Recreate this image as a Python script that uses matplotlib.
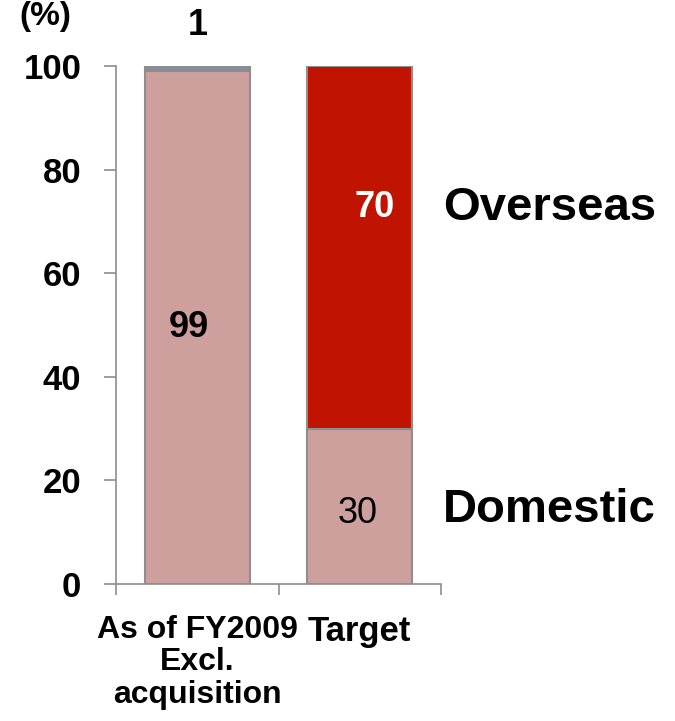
import matplotlib
matplotlib.use("Agg")
import matplotlib.pyplot as plt

plt.rcParams['font.family'] = ['Liberation Sans', 'DejaVu Sans']

categories = ["As of FY2009\nExcl.\nacquisition", "Target"]
domestic = [99, 30]
overseas = [1, 70]
overseas_colors = ["#7F8FA6", "#C01400"]
domestic_color = "#CDA09E"
edge = "#8E8E8E"

fig = plt.figure(figsize=(6.75, 7.21), dpi=100)
ax = fig.add_axes([116 / 675, 1 - 584 / 721, 325 / 675, 518 / 721])

x = list(range(len(categories)))
ax.bar(x, domestic, width=0.645, color=domestic_color, edgecolor=edge, linewidth=1.5)
ax.bar(x, overseas, bottom=domestic, width=0.645, color=overseas_colors,
       edgecolor=edge, linewidth=1.5)

ax.set_xlim(-0.5, 1.5)
ax.set_ylim(0, 100)
ax.set_yticks([0, 20, 40, 60, 80, 100])
ax.set_xticks([-0.5, 0.5, 1.5], minor=False)
ax.set_xticklabels([])
ax.set_xticks(x, minor=True)
ax.set_xticklabels(categories, minor=True, fontsize=23, fontweight='bold',
                   linespacing=1.12)
ax.get_xticklabels(minor=True)[1].set_fontsize(25)
ax.get_xticklabels(minor=True)[1].set_x(1.02)
ax.tick_params(axis='x', which='minor', length=0, pad=22)
ax.tick_params(axis='x', which='major', length=8, width=1.2, color=edge, direction='out')
ax.tick_params(axis='y', length=9, width=1.2, color=edge, direction='out', pad=16,
               labelsize=25)
for lbl in ax.get_yticklabels():
    lbl.set_fontweight('bold')

for s in ['top', 'right']:
    ax.spines[s].set_visible(False)
for s in ['left', 'bottom']:
    ax.spines[s].set_color(edge)
    ax.spines[s].set_linewidth(1.2)

# value labels
ax.text(-0.05, 49.6, f"{domestic[0]}", ha='center', va='center',
        fontsize=26, fontweight='bold', color='black')
ax.text(0.0, 107.9, f"{overseas[0]}", ha='center', va='center',
        fontsize=26, fontweight='bold', color='black', clip_on=False)
ax.text(1.094, 72.6, f"{overseas[1]}", ha='center', va='center',
        fontsize=26, fontweight='bold', color='white')
ax.text(0.99, 13.7, f"{domestic[1]}", ha='center', va='center',
        fontsize=26, color='black')

# series names at the right
ax.text(1.512, 72.6, "Overseas", ha='left', va='center',
        fontsize=34, fontweight='bold', clip_on=False)
ax.text(1.512, 14.3, "Domestic", ha='left', va='center',
        fontsize=34, fontweight='bold', clip_on=False)

fig.text(45 / 675, 1 - 1 / 721, "(%)", ha='center', va='top',
         fontsize=24, fontweight='bold')

fig.savefig("out.png", dpi=100)
